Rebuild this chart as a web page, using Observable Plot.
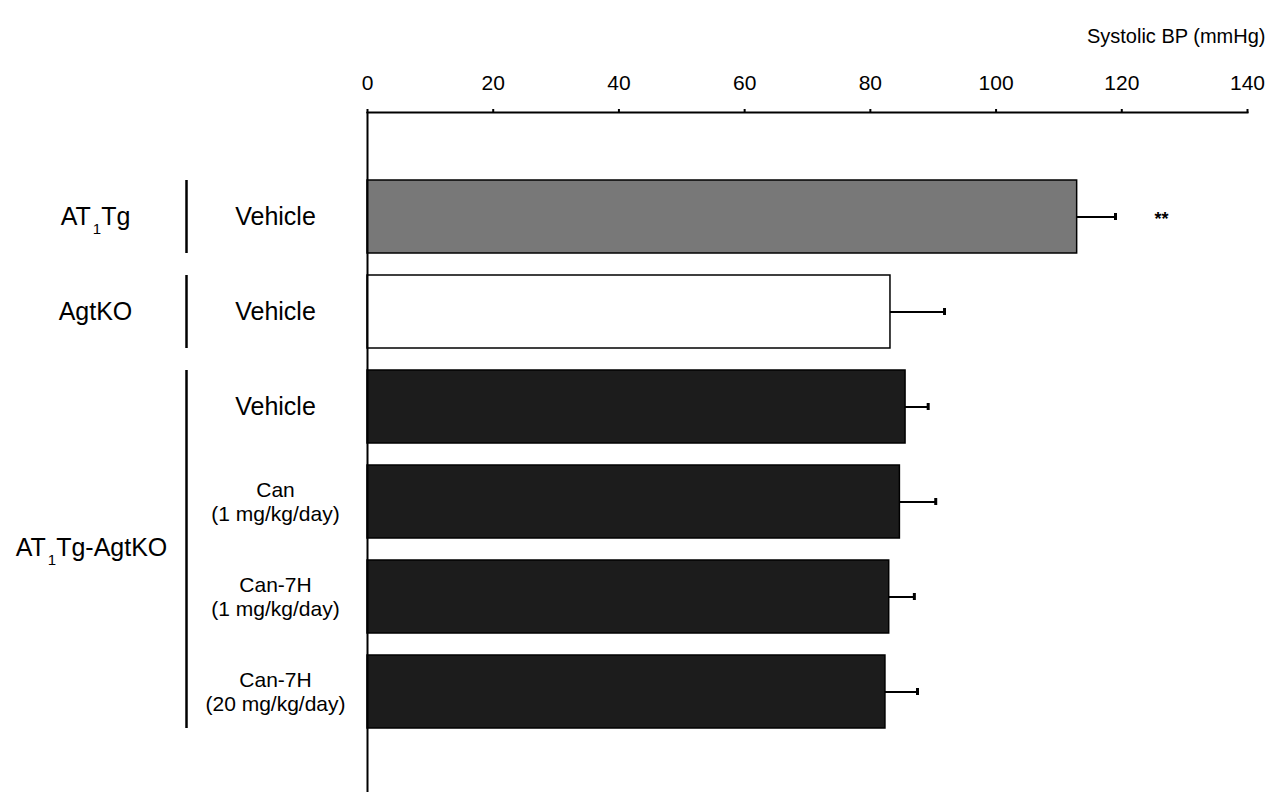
<!DOCTYPE html>
<html><head><meta charset="utf-8">
<script src="https://cdn.jsdelivr.net/npm/d3@7"></script>
<script src="https://cdn.jsdelivr.net/npm/@observablehq/plot@0.6"></script>
<style>body{margin:0;background:#fff;} svg{display:block;}</style>
</head><body><div id="chart"></div>
<script>
const keys = ["tg_veh","ko_veh","tgko_veh","tgko_can1","tgko_7h1","tgko_7h20"];
const treatments = ["Vehicle","Vehicle","Vehicle","Can\n(1 mg/kg/day)","Can-7H\n(1 mg/kg/day)","Can-7H\n(20 mg/kg/day)"];
const values = [112.9, 83.2, 85.6, 84.7, 83.0, 82.4];
const errors = [6.1, 8.6, 3.6, 5.7, 4.0, 5.1];
const fills = ["#787878","#ffffff","#1c1c1c","#1c1c1c","#1c1c1c","#1c1c1c"];
const stars = ["**","","","","",""];
const groupNames = ["AT1Tg","AgtKO","AT1Tg-AgtKO"];
const groupFirst = ["tg_veh","ko_veh","tgko_veh"];
const groupLast = ["tg_veh","ko_veh","tgko_7h20"];
const groupLabelAt = ["tg_veh","ko_veh","tgko_can1"];
const xTicks = [0,20,40,60,80,100,120,140];
const xTitle = "Systolic BP (mmHg)";

const rows = keys.map((k,i)=>({key:k, treat:treatments[i], value:values[i], hi:values[i]+errors[i], fill:fills[i], star:stars[i], multi: treatments[i].includes("\n")}));
const groups = groupNames.map((g,i)=>({name:g, first:groupFirst[i], last:groupLast[i], at:groupLabelAt[i], mid: i===2}));

const font = "Liberation Sans, Arial, Helvetica, sans-serif";
const chart = Plot.plot({
  width: 1277, height: 794,
  marginLeft: 367, marginRight: 30, marginTop: 112, marginBottom: 2,
  style: {fontFamily: font, fontSize: "20px", color: "#000", background: "#fff"},
  x: {domain: [0,140], ticks: xTicks},
  y: {domain: keys, insetTop: 55, insetBottom: 50, paddingInner: 0.23, paddingOuter: 0.115, axis: null},
  marks: [
    Plot.barX(rows, {y: "key", x: "value", fill: d=>d.fill, stroke: "#000", strokeWidth: 1.5}),
    Plot.ruleY(rows, {y: "key", x1: "value", x2: "hi", stroke: "#000", strokeWidth: 2}),
    Plot.tickX(rows, {y: "key", x: "hi", stroke: "#000", strokeWidth: 3, insetTop: 33, insetBottom: 33}),
    Plot.text(rows, {y: "key", x: "hi", text: "star", dx: 46, dy: 2, fontSize: 18, fontWeight: "bold"}),
    Plot.text(rows.filter(d=>!d.multi), {y: "key", x: 0, text: "treat", dx: -92, fontSize: 25, textAnchor: "middle"}),
    Plot.text(rows.filter(d=>d.multi), {y: "key", x: 0, text: "treat", dx: -92, dy: -1, fontSize: 21, lineHeight: 1.15, textAnchor: "middle"}),
    Plot.ruleX(groups, {x: 0, y1: "first", y2: "last", dx: -181, stroke: "#000", strokeWidth: 2.5}),
    Plot.text(groups.filter(g=>!g.mid), {y: "at", x: 0, text: "name", dx: -272, fontSize: 25, textAnchor: "middle"}),
    Plot.text(groups.filter(g=>g.mid), {y: "at", x: 0, text: "name", dx: -276, dy: 46, fontSize: 25, textAnchor: "middle"}),
    Plot.axisX({anchor: "top", ticks: xTicks, tickSize: 4, tickPadding: 19, fontSize: 21, label: null, strokeWidth: 2}),
    Plot.frame({anchor: "top", strokeWidth: 2}),
    Plot.ruleX([0], {stroke: "#000", strokeWidth: 2}),
    Plot.text([xTitle], {frameAnchor: "top-right", dx: 18, dy: -84, textAnchor: "end", fontSize: 20})
  ]
});
// subscript the "1" in AT1
chart.querySelectorAll("text").forEach(t => {
  if (t.children.length === 0 && /^AT1/.test(t.textContent)) {
    const rest = t.textContent.slice(3);
    t.textContent = "AT";
    const ns = "http://www.w3.org/2000/svg";
    const s = document.createElementNS(ns, "tspan");
    s.setAttribute("font-size", "15");
    s.setAttribute("dy", "9");
    s.setAttribute("dx", "2");
    s.textContent = "1";
    const r = document.createElementNS(ns, "tspan");
    r.setAttribute("dy", "-9");
    r.textContent = rest;
    t.appendChild(s); t.appendChild(r);
  }
});
document.getElementById("chart").appendChild(chart);
</script></body></html>
